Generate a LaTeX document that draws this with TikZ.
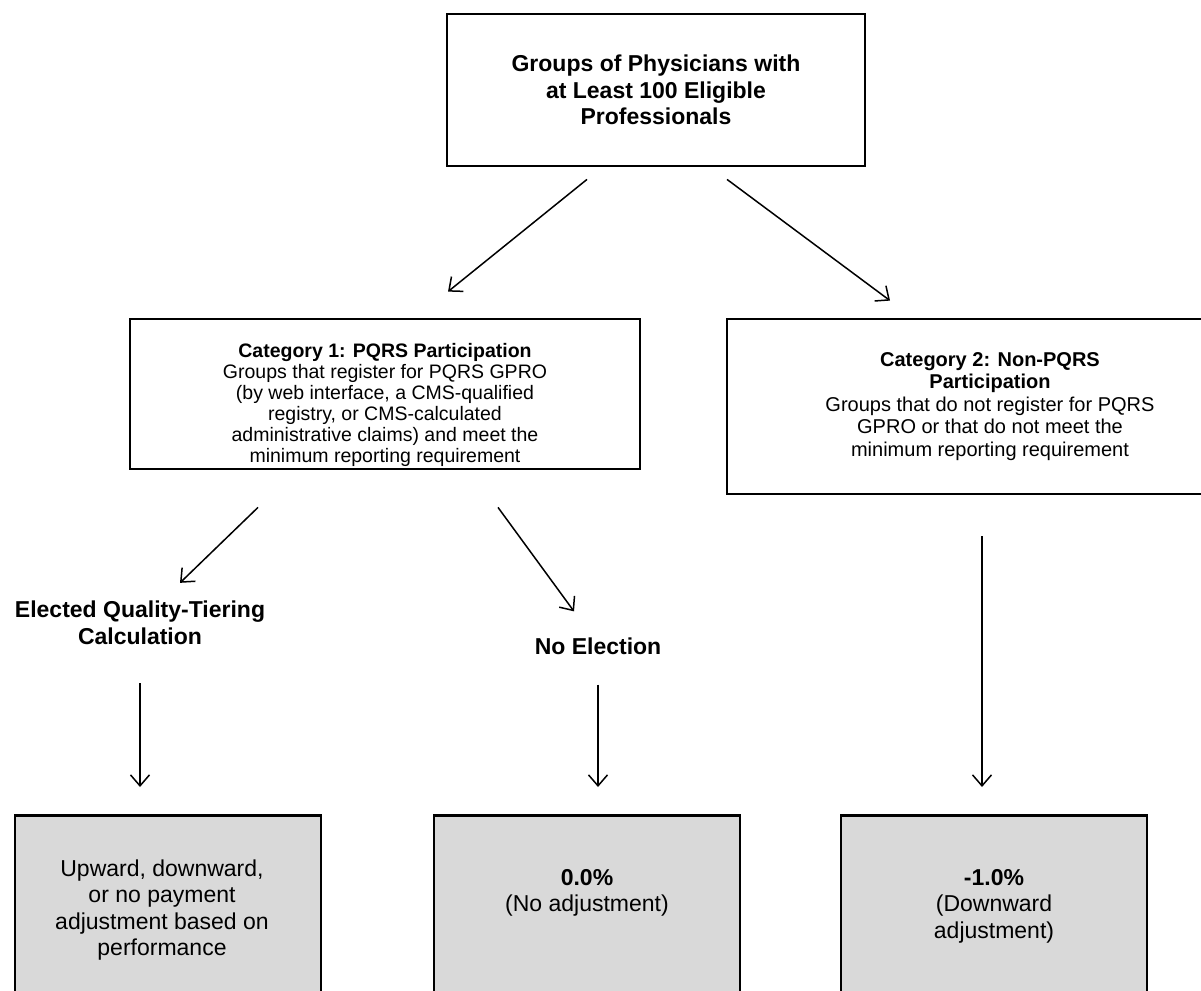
\documentclass[tikz,border=0pt]{standalone}
\usepackage{fontspec}
\setmainfont{Liberation Sans}
\usetikzlibrary{positioning,arrows.meta}

\begin{document}
\begin{tikzpicture}[x=1pt,y=-1pt,
  box/.style={draw, line width=2.8pt, align=center, inner sep=0pt},
  outbox/.style={draw, line width=2.8pt, fill=black!15, minimum width=306pt, minimum height=220pt, anchor=north},
  arr/.style={-{Straight Barb[length=11pt,width=19pt]}, line width=1.5pt},
  lbl/.style={align=center, inner sep=0pt, font=\fontsize{23}{27}\selectfont\bfseries},
  outtxt/.style={align=center, inner sep=0pt, font=\fontsize{23}{26.5}\selectfont}]
\useasboundingbox (0,0) rectangle (1201,990);
\clip (0,0) rectangle (1201,990);

% Groups
\node[box, minimum width=418pt, minimum height=152pt, font=\fontsize{23}{26.5}\selectfont\bfseries] (grp) at (656,90)
  {Groups of Physicians with\\at Least 100 Eligible\\Professionals};

% Categories
\node[box, minimum width=510pt, minimum height=150pt, font=\fontsize{19.5}{21}\selectfont] (cat1) at (385,394)
  {\rule{0pt}{36pt}\textbf{Category 1: PQRS Participation}\\
   Groups that register for PQRS GPRO\\
   (by web interface, a CMS-qualified\\
   registry, or CMS-calculated\\
   administrative claims) and meet the\\
   minimum reporting requirement};
\node[box, minimum width=526pt, minimum height=175pt, font=\fontsize{20}{22.5}\selectfont] (cat2) at (990,406.5)
  {\textbf{Category 2: Non-PQRS}\\
   \textbf{Participation}\\
   Groups that do not register for PQRS\\
   GPRO or that do not meet the\\
   minimum reporting requirement};

% Elections
\node[lbl] (elect) at (140,623) {Elected Quality-Tiering\\Calculation};
\node[lbl] (noel) at (598,646) {No Election};

% Adjustments
\node[outbox] (adj1) at (168,814) {};
\node[outbox] (adj2) at (587,814) {};
\node[outbox] (adj3) at (994,814) {};
\node[outtxt] (adj1t) at (162,910) {Upward, downward,\\or no payment\\adjustment based on\\performance};
\node[outtxt] (adj2t) at (587,893) {\textbf{0.0\%}\\(No adjustment)};
\node[outtxt] (adj3t) at (994,906) {\textbf{-1.0\%}\\(Downward\\adjustment)};

% Arrows
\draw[arr] ([shift={(-69,12)}]grp.south) -- ([shift={(63,-26)}]cat1.north);
\draw[arr] ([shift={(71,12)}]grp.south) -- ([shift={(-100,-17)}]cat2.north);
\draw[arr] ([shift={(-127,37)}]cat1.south) -- ([shift={(40,-18)}]elect.north);
\draw[arr] ([shift={(113,37)}]cat1.south) -- ([shift={(-24,-26)}]noel.north);
\draw[arr] ([shift={(-8,41)}]cat2.south) -- ([shift={(-12,-27)}]adj3.north);
\draw[arr] ([shift={(0,38)}]elect.south) -- ([shift={(-28,-27)}]adj1.north);
\draw[arr] ([shift={(0,30)}]noel.south) -- ([shift={(11,-27)}]adj2.north);
\end{tikzpicture}
\end{document}
